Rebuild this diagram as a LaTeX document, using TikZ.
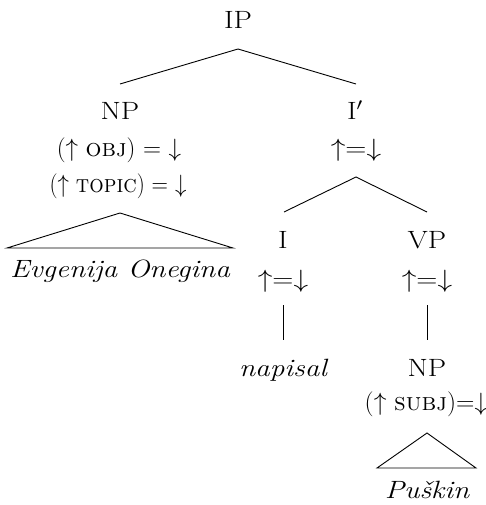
\RequirePackage{fix-cm}
\documentclass[tikz,border=0pt]{standalone}
\usepackage{graphicx}
% widen (or narrow) the glyphs horizontally
\newcommand{\wideset}[2][1.17]{\scalebox{#1}[1]{#2}}
\begin{document}
\begin{tikzpicture}[x=1pt,y=-1pt,
  lab/.style={anchor=base, inner sep=0pt, font=\fontsize{25}{29}\selectfont},
  itl/.style={lab, font=\fontsize{25}{29}\selectfont\itshape},
  br/.style={line width=0.9pt},
]
\useasboundingbox (0,0) rectangle (486,505);

% category labels and f-annotations
\node[lab] (ip) at (238,29) {\wideset{IP}};
\node[lab] (np) at (120,120) {\wideset{NP}};
\node[lab] (npobj) at (119,157) {\wideset[1.0]{($\uparrow$ \textsc{obj}) = $\downarrow$}};
\node[lab] (nptop) at (118,192) {\wideset[0.91]{($\uparrow$ \textsc{topic}) = $\downarrow$}};
\node[itl] (eo) at (120,277) {\wideset{Evgenija Onegina}};
\node[lab] (ibar) at (355,120) {\wideset{I$'$}};
\node[lab] (ibarf) at (356,157) {\wideset{${\uparrow}{=}{\downarrow}$}};
\node[lab] (i) at (283,248) {\wideset{I}};
\node[lab] (if) at (283,287) {\wideset{${\uparrow}{=}{\downarrow}$}};
\node[lab] (vp) at (427,248) {\wideset{VP}};
\node[lab] (vpf) at (427,287) {\wideset{${\uparrow}{=}{\downarrow}$}};
\node[itl] (nap) at (283,376) {\wideset{napisal}};
\node[lab] (np2) at (427,376) {\wideset{NP}};
\node[lab] (np2f) at (426,410) {\wideset[1.02]{($\uparrow$ \textsc{subj})${=}{\downarrow}$}};
\node[itl] (pus) at (427,498) {\wideset{Puškin}};

% branch end points
\coordinate (ip-s) at (238,49);
\coordinate (np-n) at (120,84);
\coordinate (ibar-n) at (356,84);
\coordinate (ibar-s) at (356,177);
\coordinate (i-n) at (284,212);
\coordinate (vp-n) at (427,212);
\coordinate (if-s) at (283,305);
\coordinate (nap-n) at (283,340);
\coordinate (vpf-s) at (427,305);
\coordinate (np2-n) at (427,340);
\coordinate (eo-apex) at (120,213);
\coordinate (eo-l) at (7,248);
\coordinate (eo-r) at (233,248);
\coordinate (pus-apex) at (427,433);
\coordinate (pus-l) at (377,468);
\coordinate (pus-r) at (476,468);

% branches
\draw[br] (np-n) -- (ip-s) -- (ibar-n);
\draw[br] (i-n) -- (ibar-s) -- (vp-n);
\draw[br] (if-s) -- (nap-n);
\draw[br] (vpf-s) -- (np2-n);
\draw[br] (eo-l) -- (eo-apex) -- (eo-r) -- cycle;
\draw[br] (pus-l) -- (pus-apex) -- (pus-r) -- cycle;
\end{tikzpicture}
\end{document}
